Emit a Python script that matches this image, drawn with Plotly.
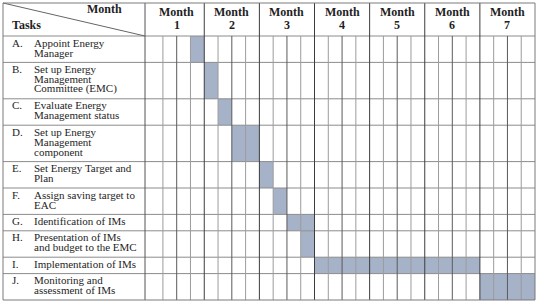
import plotly.graph_objects as go

# ---- data ----
months = ["1", "2", "3", "4", "5", "6", "7"]
weeks_per_month = 4
letters = ["A.", "B.", "C.", "D.", "E.", "F.", "G.", "H.", "I.", "J."]
task_lines = [
    ["Appoint Energy", "Manager"],
    ["Set up Energy", "Management", "Committee (EMC)"],
    ["Evaluate Energy", "Management status"],
    ["Set up Energy", "Management", "component"],
    ["Set Energy Target and", "Plan"],
    ["Assign saving target to", "EAC"],
    ["Identification of IMs"],
    ["Presentation of IMs", "and budget to the EMC"],
    ["Implementation of IMs"],
    ["Monitoring and", "assessment of IMs"],
]
start_week = [3, 4, 5, 6, 8, 9, 10, 11, 12, 24]
duration_weeks = [1, 1, 1, 2, 1, 1, 2, 1, 12, 4]

# ---- layout constants ----
W, H = 539, 304
LEFT, TOP, RIGHT, BOTTOM = 3, 3, 535, 300
TASK_RIGHT = 145
HEADER_BOTTOM = 36
LINE_H = 10
PAD = 6.4
X0 = -0.3
n_weeks = len(months) * weeks_per_month
FONT = "Liberation Serif"
BAR_COLOR = "rgb(166,178,200)"
TEXT_COLOR = "#1e1e1e"


def px(x):
    return x / W


heights = [PAD + LINE_H * len(l) for l in task_lines]
tops = []
y = HEADER_BOTTOM
for h in heights:
    tops.append(y)
    y += h
centers = [t + h / 2 for t, h in zip(tops, heights)]

fig = go.Figure()
fig.add_trace(go.Bar(
    orientation="h",
    y=centers,
    x=duration_weeks,
    base=start_week,
    width=heights,
    marker=dict(color=BAR_COLOR, line=dict(width=0)),
    hoverinfo="skip",
    showlegend=False,
))

shapes = []
grid_h = "#8c8c8c"
# horizontal row lines
for t in tops:
    shapes.append(dict(type="line", xref="paper", yref="y", x0=px(LEFT), x1=px(RIGHT),
                       y0=t, y1=t, line=dict(color=grid_h, width=1), layer="above"))
# week lines
for w in range(1, n_weeks):
    if w % weeks_per_month == 0:
        col, y0 = "#3c3c3c", TOP
    elif w % 2 == 0:
        col, y0 = "#5a5a5a", HEADER_BOTTOM
    else:
        col, y0 = "#9c9c9c", HEADER_BOTTOM
    shapes.append(dict(type="line", xref="x", yref="y", x0=w, x1=w, y0=y0, y1=BOTTOM,
                       line=dict(color=col, width=1), layer="above"))
# task column divider
shapes.append(dict(type="line", xref="paper", yref="y", x0=px(TASK_RIGHT), x1=px(TASK_RIGHT),
                   y0=TOP, y1=BOTTOM, line=dict(color="#555", width=1), layer="above"))
# diagonal
shapes.append(dict(type="line", xref="paper", yref="y", x0=px(LEFT), x1=px(TASK_RIGHT),
                   y0=TOP, y1=HEADER_BOTTOM, line=dict(color="#666", width=1), layer="above"))
# outer border
shapes.append(dict(type="rect", xref="paper", yref="y", x0=px(LEFT), x1=px(RIGHT),
                   y0=TOP, y1=BOTTOM, line=dict(color="#7a7a7a", width=1), layer="above"))

ann = []
hfont = dict(family=FONT, size=12, color=TEXT_COLOR)
tfont = dict(family=FONT, size=11, color=TEXT_COLOR)
ann.append(dict(text="<b>Month</b>", xref="paper", yref="y", x=px(124), y=8.5,
                xanchor="right", yanchor="middle", showarrow=False, font=hfont))
ann.append(dict(text="<b>Tasks</b>", xref="paper", yref="y", x=px(10), y=25,
                xanchor="left", yanchor="middle", showarrow=False, font=hfont))
for i, m in enumerate(months):
    xc = i * weeks_per_month + weeks_per_month / 2
    ann.append(dict(text="<b>Month</b>", xref="x", yref="y", x=xc, y=12,
                    xanchor="center", yanchor="middle", showarrow=False, font=hfont))
    ann.append(dict(text="<b>%s</b>" % m, xref="x", yref="y", x=xc, y=25,
                    xanchor="center", yanchor="middle", showarrow=False, font=hfont))
for letter, lines, t in zip(letters, task_lines, tops):
    ann.append(dict(text=letter, xref="paper", yref="y", x=px(10), y=t + 6.5,
                    xanchor="left", yanchor="middle", showarrow=False, font=tfont))
    for k, line in enumerate(lines):
        ann.append(dict(text=line, xref="paper", yref="y", x=px(32), y=t + 6.5 + LINE_H * k,
                        xanchor="left", yanchor="middle", showarrow=False, font=tfont))

fig.update_layout(
    width=W, height=H,
    margin=dict(l=0, r=0, t=0, b=0, pad=0),
    paper_bgcolor="white", plot_bgcolor="white",
    xaxis=dict(domain=[px(TASK_RIGHT), px(RIGHT)], range=[X0, n_weeks],
               showgrid=False, zeroline=False, showticklabels=False, ticks="", fixedrange=True),
    yaxis=dict(domain=[0, 1], range=[H, 0], showgrid=False, zeroline=False,
               showticklabels=False, ticks="", fixedrange=True),
    shapes=shapes,
    annotations=ann,
    showlegend=False,
)

fig.write_html("out.html", config={"displayModeBar": False})
